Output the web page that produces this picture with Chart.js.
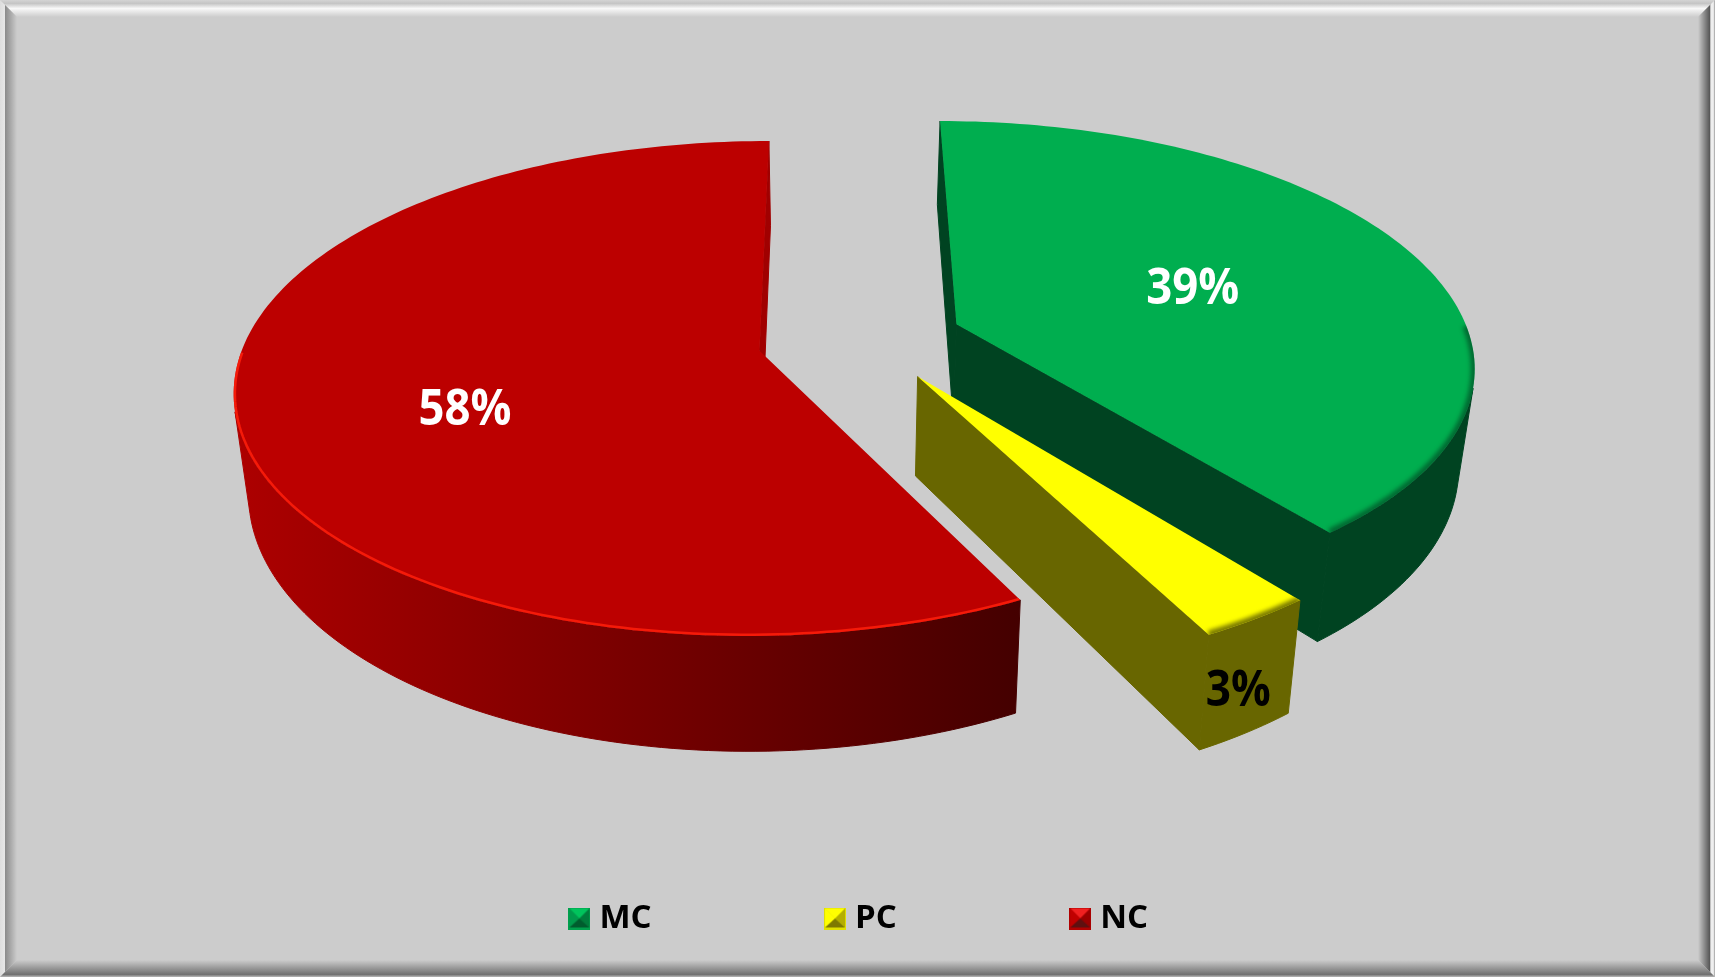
<!DOCTYPE html>
<html>
<head>
<meta charset="utf-8">
<title>MC PC NC</title>
<script src="https://cdn.jsdelivr.net/npm/chart.js@4"></script>
<style>
    html, body { margin: 0; padding: 0; background: #cccccc; }
    canvas { display: block; }
</style>
</head>
<body>
<canvas id="chart-pie" width="1715" height="977"></canvas>
<script>
const categories = ['MC', 'PC', 'NC'];
const shares = [39.4, 3.1, 57.5];
const shareLabels = ['39%', '3%', '58%'];

const topColors = ['#00ae4f', '#ffff00', '#bc0000'];
const sideColors = ['#004321', '#686600', '#a00000'];
const wallLeftColors = ['#004321', '#686600', '#ad0000'];
const wallRightColors = ['#004321', '#686600', '#440000'];
const rimColors = ['rgba(0,60,30,0.6)', 'rgba(90,90,0,0.8)', 'rgba(255,30,10,0.85)'];
const labelColors = ['#ffffff', '#000000', '#ffffff'];
const labelRadius = [0.51, 0.97, 0.57];
const labelDepth = [0, 0.66, 0];
const labelDrop = [3, 6, 27];
const sliceOffsets = [98, 94, 108];

// camera used to tilt the flat arcs into the 3D look of the original
const CAM = { cx: 865, cy: 339, vx: 831, hy: -1234, d: 3395, k: 0.975, h: 97 };

function project(u, v, low) {
    const s = 1 / (1 - v / CAM.d);
    let x = CAM.vx + (CAM.cx - CAM.vx + u) * s;
    let y = CAM.hy + (CAM.cy - CAM.hy) * s;
    if (low) {
        x = CAM.vx + (x - CAM.vx) * (1 - (1 - CAM.k) * low);
        y += CAM.h * low * s;
    }
    return [x, y];
}

function tracePoly(ctx, pts) {
    ctx.beginPath();
    pts.forEach((p, i) => i ? ctx.lineTo(p[0], p[1]) : ctx.moveTo(p[0], p[1]));
    ctx.closePath();
}

function signedArea(pts) {
    let a = 0;
    pts.forEach((p, i) => {
        const q = pts[(i + 1) % pts.length];
        a += p[0] * q[1] - q[0] * p[1];
    });
    return a;
}

function sliceGeometry(el) {
    const off = el.options.offset || 0;
    const mid = (el.startAngle + el.endAngle) / 2;
    const ox = off * Math.cos(mid), oy = off * Math.sin(mid);
    const n = Math.max(4, Math.ceil((el.endAngle - el.startAngle) / 0.02));
    const plane = [[ox, oy]];
    for (let i = 0; i <= n; i++) {
        const a = el.startAngle + (el.endAngle - el.startAngle) * i / n;
        plane.push([ox + el.outerRadius * Math.cos(a), oy + el.outerRadius * Math.sin(a)]);
    }
    return { plane, mid, ox, oy };
}

function drawSlice(ctx, el, i) {
    const { plane, ox, oy } = sliceGeometry(el);
    const top = plane.map(p => project(p[0], p[1]));
    const low = plane.map(p => project(p[0], p[1], 1));
    const last = top.length - 1;

    const faceVisible = (j, k) => signedArea([top[j], top[k], low[k], low[j]]) < 0;
    const fillFace = (pts, col, seam) => {
        tracePoly(ctx, pts);
        ctx.fillStyle = col;
        ctx.fill();
        if (seam) {
            ctx.strokeStyle = col;
            ctx.lineWidth = 1;
            ctx.stroke();
        }
    };

    // the two cut faces
    if (faceVisible(0, 1)) fillFace([top[0], top[1], low[1], low[0]], sideColors[i], true);
    if (faceVisible(last, 0)) fillFace([top[last], top[0], low[0], low[last]], sideColors[i], true);

    // outer wall, one polygon per visible run of arc steps
    const xs = low.concat(top).map(p => p[0]);
    const grad = ctx.createLinearGradient(Math.min(...xs), 0, Math.max(...xs), 0);
    grad.addColorStop(0, wallLeftColors[i]);
    grad.addColorStop(1, wallRightColors[i]);
    let run = [];
    const flush = () => {
        if (run.length > 1) {
            fillFace(run.map(j => top[j]).concat(run.slice().reverse().map(j => low[j])), grad, true);
        }
        run = [];
    };
    for (let j = 1; j < last; j++) {
        if (faceVisible(j, j + 1)) {
            if (!run.length) run.push(j);
            run.push(j + 1);
        } else {
            flush();
        }
    }
    flush();

    fillFace(top, topColors[i]);

    // lit edge along the front of the top face
    ctx.save();
    tracePoly(ctx, top);
    ctx.clip();
    ctx.beginPath();
    let started = false;
    plane.slice(1).forEach(p => {
        const a = Math.atan2(p[1] - oy, p[0] - ox);
        if (Math.sin(a) < 0) { started = false; return; }
        const q = project(p[0], p[1]);
        if (started) ctx.lineTo(q[0], q[1]); else ctx.moveTo(q[0], q[1]);
        started = true;
    });
    if (i !== 2) ctx.filter = 'blur(2px)';
    ctx.strokeStyle = rimColors[i];
    ctx.lineWidth = i === 2 ? 5 : 8;
    ctx.stroke();
    ctx.restore();
}

const pie3d = {
    id: 'pie3d',
    beforeDraw(chart) {
        const ctx = chart.ctx, w = chart.width, h = chart.height;
        ctx.save();
        ctx.fillStyle = '#cccccc';
        ctx.fillRect(0, 0, w, h);
        const bevel = (poly, x0, y0, x1, y1, stops) => {
            const g = ctx.createLinearGradient(x0, y0, x1, y1);
            stops.forEach(s => g.addColorStop(s[0], s[1]));
            tracePoly(ctx, poly);
            ctx.fillStyle = g;
            ctx.fill();
        };
        const b = 17;
        bevel([[0, 0], [w, 0], [w - b, b], [b, b]], 0, 0, 0, b,
            [[0, '#d4d4d4'], [0.2, '#c4c4c4'], [0.5, '#f8f8f8'], [1, '#cccccc']]);
        bevel([[0, 0], [b, b], [b, h - b], [0, h]], 0, 0, b, 0,
            [[0, '#dddddd'], [0.28, '#e6e6e6'], [0.32, '#8c8c8c'], [1, '#cccccc']]);
        bevel([[w, 0], [w, h], [w - b, h - b], [w - b, b]], w, 0, w - b, 0,
            [[0, '#9a9a9a'], [0.1, '#f0f0f0'], [0.25, '#ededed'], [0.3, '#555555'], [1, '#cccccc']]);
        bevel([[0, h], [b, h - b], [w - b, h - b], [w, h]], 0, h, 0, h - b,
            [[0, '#b8b8b8'], [0.15, '#707070'], [1, '#cccccc']]);
        ctx.restore();
    },
    beforeDatasetDraw(chart, args) {
        const ctx = chart.ctx;
        const arcs = chart.getDatasetMeta(args.index).data;
        // back slices first
        const order = arcs.map((el, i) => i).sort((a, b) =>
            sliceGeometry(arcs[a]).oy - sliceGeometry(arcs[b]).oy);
        ctx.save();
        order.forEach(i => drawSlice(ctx, arcs[i], i));
        ctx.font = 'bold 50px "Open Sans"';
        ctx.textAlign = 'center';
        ctx.textBaseline = 'middle';
        arcs.forEach((el, i) => {
            const g = sliceGeometry(el);
            const r = el.outerRadius * labelRadius[i];
            const p = project(g.ox + r * Math.cos(g.mid), g.oy + r * Math.sin(g.mid), labelDepth[i]);
            ctx.fillStyle = labelColors[i];
            ctx.fillText(shareLabels[i], p[0], p[1] + labelDrop[i], shareLabels[i].length > 2 ? 93 : 65);
        });
        ctx.restore();
        return false;
    }
};

function legendMarker(light, left, right, dark, base) {
    const c = document.createElement('canvas');
    c.width = 22;
    c.height = 22;
    const m = c.getContext('2d');
    m.fillStyle = base;
    m.fillRect(0, 0, 22, 22);
    [[light, [[1, 1], [21, 1], [11, 11]]],
     [left, [[1, 1], [1, 20], [11, 11]]],
     [right, [[21, 1], [21, 20], [11, 11]]],
     [dark, [[1, 20], [21, 20], [11, 11]]]].forEach(([col, pts]) => {
        tracePoly(m, pts);
        m.fillStyle = col;
        m.fill();
    });
    return c;
}

const markers = [
    legendMarker('#00c45c', '#009a4c', '#007c3c', '#005c2e', '#00a04c'),
    legendMarker('#ffff00', '#ffff00', '#b4ae00', '#7e7a00', '#e0e000'),
    legendMarker('#f02020', '#c00000', '#9a0000', '#5e1010', '#b00000')
];

new Chart(document.getElementById('chart-pie'), {
    type: 'pie',
    data: {
        labels: categories,
        datasets: [{
            data: shares,
            backgroundColor: topColors,
            borderWidth: 0,
            offset: sliceOffsets,
            radius: 514
        }]
    },
    options: {
        responsive: false,
        animation: false,
        layout: { padding: { bottom: 32, left: 9 } },
        plugins: {
            tooltip: { enabled: false },
            legend: {
                position: 'bottom',
                labels: {
                    usePointStyle: true,
                    pointStyleWidth: 7,
                    padding: 180,
                    color: '#000000',
                    font: { family: 'Open Sans', size: 33, weight: 'bold' },
                    generateLabels: chart => chart.data.labels.map((text, i) => ({
                        text,
                        pointStyle: markers[i],
                        fontColor: '#000000',
                        fillStyle: topColors[i],
                        lineWidth: 0,
                        hidden: false,
                        index: i
                    }))
                }
            }
        }
    },
    plugins: [pie3d]
});
</script>
</body>
</html>
